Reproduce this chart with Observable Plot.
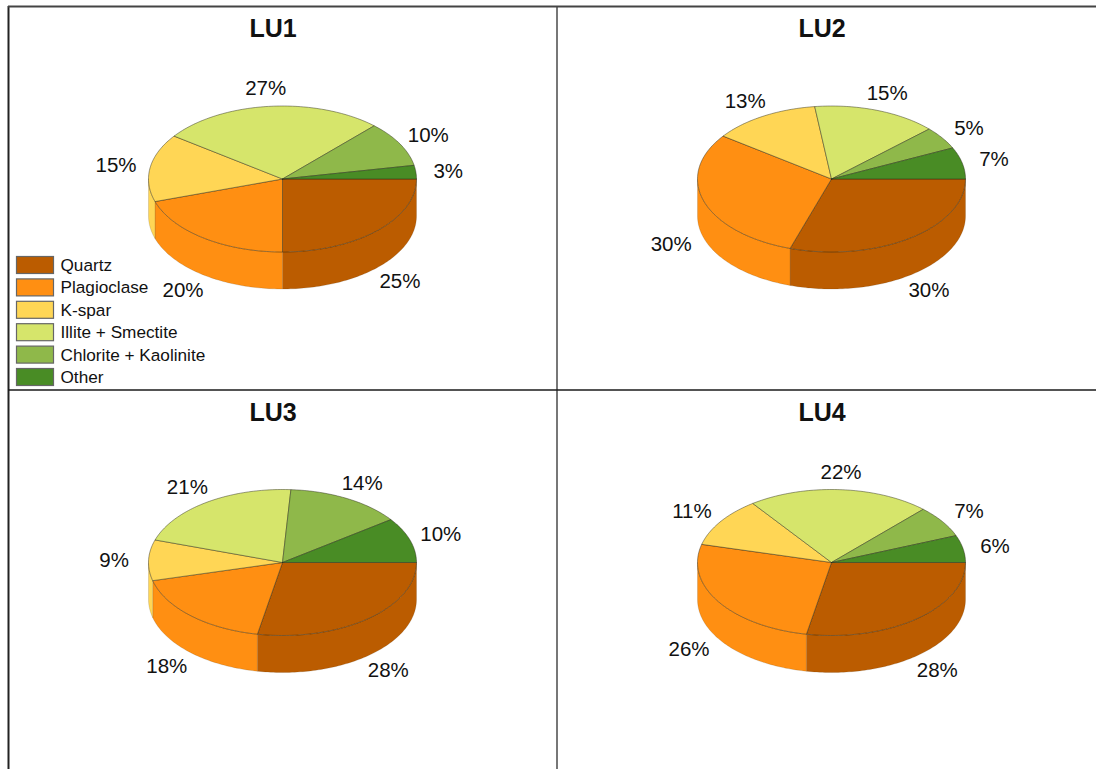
<!DOCTYPE html>
<html>
<head>
<meta charset="utf-8">
<script src="https://cdn.jsdelivr.net/npm/d3@7"></script>
<script src="https://cdn.jsdelivr.net/npm/@observablehq/plot@0.6"></script>
<style>
  html, body { margin: 0; padding: 0; background: #fff; }
  svg { display: block; }
</style>
</head>
<body>
<div id="chart"></div>
<script>
// Mineral composition (percent) of four lithological units.
const minerals = ["Quartz", "Plagioclase", "K-spar", "Illite + Smectite", "Chlorite + Kaolinite", "Other"];
const mineralColors = ["#BB5C00", "#FF8F12", "#FFD655", "#D6E56B", "#8FB84A", "#498C25"];
const lu1 = [25, 20, 15, 27, 10, 3];
const lu2 = [30, 30, 13, 15, 5, 7];
const lu3 = [28, 18, 9, 21, 14, 10];
const lu4 = [28, 26, 11, 22, 7, 6];
const unitNames = ["LU1", "LU2", "LU3", "LU4"];
const unitValues = [lu1, lu2, lu3, lu4];

// Panel layout, in SVG pixels.
const W = 1096, H = 769;
const panelCx = [282, 831];
const panelCy = [178.5, 562];
const rx = 134, ry = 73, depth = 37;
const labelReach = 1.25;

// Point on the elliptical rim at angle t, clockwise from east.
const onRim = (cx, cy, t) => [cx + rx * Math.cos(t), cy + ry * Math.sin(t)];
const TAU = Math.PI * 2;

const tops = [], walls = [], labels = [], titles = [];
unitValues.forEach((values, u) => {
  const cx = panelCx[u % 2], cy = panelCy[u >> 1];
  titles.push({x: cx - 9.5, y: cy - 150, name: unitNames[u]});
  const total = d3.sum(values);
  let cum = 0;
  values.forEach((v, i) => {
    const a0 = cum / total * TAU, a1 = (cum + v) / total * TAU;
    cum += v;
    const key = `${u}-${i}`, mineral = minerals[i];
    const steps = Math.max(2, Math.ceil((a1 - a0) / 0.02));
    const arc = d3.range(steps + 1).map((k) => a0 + (a1 - a0) * k / steps);

    // Top face: wedge from the centre around the rim and back.
    const ring = [[cx, cy], ...arc.map((t) => onRim(cx, cy, t)), [cx, cy]];
    ring.forEach(([x, y]) => tops.push({key, mineral, x, y}));

    // Side wall: only the front half of the rim is visible.
    const front = arc.map((t) => Math.min(t, Math.PI)).filter((t, k, all) => k === 0 || t !== all[k - 1]);
    if (a0 < Math.PI && front.length > 1) {
      const upper = front.map((t) => onRim(cx, cy, t));
      const lower = front.map((t) => onRim(cx, cy + depth, t)).reverse();
      [...upper, ...lower, upper[0]].forEach(([x, y]) => walls.push({key, mineral, x, y}));
    }

    // Percent label just outside the slice, dropped below the wall on the near side.
    const mid = (a0 + a1) / 2, s = Math.sin(mid);
    labels.push({
      x: cx + rx * labelReach * Math.cos(mid) - 1,
      y: cy + ry * labelReach * s + (s > 0 ? depth : 0) + 0.6,
      text: `${v}%`
    });
  });
});

// Legend sits in the lower left of the first panel.
const legendRows = minerals.map((mineral, i) => ({
  mineral,
  x1: 16.5, x2: 53.5,
  y1: 256.5 + i * 22.4, y2: 273.5 + i * 22.4,
  tx: 60, ty: 265 + i * 22.4
}));

const font = "'Liberation Sans', Arial, Helvetica, sans-serif";

const chart = Plot.plot({
  width: W,
  height: H,
  margin: 0,
  x: {domain: [0, W], range: [0, W], axis: null},
  y: {domain: [0, H], range: [0, H], axis: null},
  color: {domain: minerals, range: mineralColors},
  style: {background: "#fff"},
  marks: [
    Plot.line(walls, {x: "x", y: "y", z: "key", fill: "mineral", stroke: "#3a2a10", strokeWidth: 0.5, strokeOpacity: 0.3, curve: "linear"}),
    Plot.line(tops, {x: "x", y: "y", z: "key", fill: "mineral", stroke: "#2a2a1a", strokeWidth: 0.7, strokeOpacity: 0.65, curve: "linear"}),
    Plot.text(labels, {x: "x", y: "y", text: "text", fontSize: 20.5, fontFamily: font, fill: "#111"}),
    Plot.text(titles, {x: "x", y: "y", text: "name", fontSize: 25, fontWeight: "bold", fontFamily: font, fill: "#111"}),
    Plot.rect(legendRows, {x1: "x1", x2: "x2", y1: "y1", y2: "y2", fill: "mineral", stroke: "#666", strokeWidth: 1.2}),
    Plot.text(legendRows, {x: "tx", y: "ty", text: "mineral", textAnchor: "start", fontSize: 17.2, fontFamily: font, fill: "#111"}),
    // Panel frame: open on the right and at the bottom.
    Plot.ruleX([556.5], {y1: 6, y2: H, stroke: "#777", strokeWidth: 2}),
    Plot.ruleX([8], {y1: 6, y2: H, stroke: "#222", strokeWidth: 2}),
    Plot.ruleY([6], {x1: 8, x2: W, stroke: "#444", strokeWidth: 2}),
    Plot.ruleY([389.5], {x1: 8, x2: W, stroke: "#1a1a1a", strokeWidth: 1.5})
  ]
});
document.getElementById("chart").appendChild(chart);
</script>
</body>
</html>
